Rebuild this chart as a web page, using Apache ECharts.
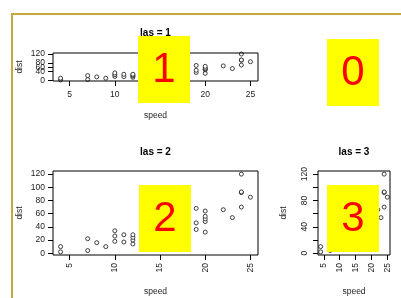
<!DOCTYPE html>
<html>
<head>
<meta charset="utf-8">
<script src="https://cdn.jsdelivr.net/npm/echarts@6/dist/echarts.min.js"></script>
<style>
  html, body { margin: 0; padding: 0; background: #fff; }
  #chart { width: 401px; height: 298px; }
</style>
</head>
<body>
<div id="chart"></div>
<script>
// cars data (speed vs dist)
const speed = [4, 4, 7, 7, 8, 9, 10, 10, 10, 11, 11, 12, 12, 12, 12, 13, 13, 13, 13, 14, 14, 14, 14, 15, 15, 15, 16, 16, 17, 17, 17, 18, 18, 18, 18, 19, 19, 19, 20, 20, 20, 20, 20, 22, 23, 24, 24, 24, 24, 25]
const dist = [2, 10, 4, 22, 16, 10, 18, 26, 34, 17, 28, 14, 20, 24, 28, 26, 34, 34, 46, 26, 36, 60, 80, 20, 26, 54, 32, 40, 32, 40, 50, 42, 56, 76, 84, 36, 46, 68, 32, 48, 52, 56, 64, 66, 54, 70, 92, 93, 120, 85]

const xTicks = [5, 10, 15, 20, 25]
const yTicks = [0, 20, 40, 60, 80, 100, 120]
const yLabelsLas3 = [0, 40, 80, 120]
const titles = ['las = 1', 'las = 2', 'las = 3']
const panelNumbers = ['1', '0', '2', '3']

// R style axis range (4% padding)
const xRange = [3.16, 25.84]
const yRange = [-2.72, 124.72]

const points = speed.map(function (s, i) { return [s, dist[i]] })

// plot boxes in pixels
const boxes = [
  { left: 53, top: 53, width: 205, height: 28 },
  { left: 53, top: 171, width: 205, height: 84 },
  { left: 318, top: 171, width: 72, height: 84 }
]
// las: 1 horizontal, 2 perpendicular, 3 vertical
const xRotate = [0, 90, 90]
const yRotate = [0, 0, 90]
const yLabelValues = [yTicks, yTicks, yLabelsLas3]

// yellow cover boxes: x, y
const coverBoxes = [[138, 36], [327, 39], [139, 185], [327, 185]]

const fontFamily = 'Liberation Sans, Arial, sans-serif'
const labelColor = '#222'

let myChart = echarts.init(document.getElementById('chart'), null, { renderer: 'canvas' })

let grids = [], xAxes = [], yAxes = [], series = [], graphics = []

boxes.forEach(function (b, i) {
  grids.push({
    left: b.left, top: b.top, width: b.width, height: b.height,
    show: true, borderColor: '#000', borderWidth: 1, backgroundColor: 'transparent',
    containLabel: false, outerBoundsMode: 'none', z: 5
  })
  xAxes.push({
    type: 'value', gridIndex: i, min: xRange[0], max: xRange[1],
    axisLine: { show: false, onZero: false },
    axisTick: { show: true, inside: false, length: 5, lineStyle: { color: '#000' }, customValues: xTicks },
    splitLine: { show: false },
    axisLabel: {
      customValues: xTicks, rotate: xRotate[i], margin: i == 0 ? 9 : 8,
      showMinLabel: true, showMaxLabel: true, hideOverlap: false, interval: 0,
      fontSize: 8.5, color: labelColor, fontFamily: fontFamily
    }
  })
  yAxes.push({
    type: 'value', gridIndex: i, min: yRange[0], max: yRange[1],
    axisLine: { show: false, onZero: false },
    axisTick: { show: true, inside: false, length: 5, lineStyle: { color: '#000' }, customValues: yTicks },
    splitLine: { show: false },
    axisLabel: {
      customValues: yLabelValues[i], rotate: yRotate[i], margin: i == 2 ? 9 : 8,
      showMinLabel: true, showMaxLabel: true, hideOverlap: false, interval: 0,
      fontSize: 8.5, color: labelColor, fontFamily: fontFamily
    }
  })
  series.push({
    type: 'scatter', xAxisIndex: i, yAxisIndex: i,
    data: points,
    symbol: 'circle', symbolSize: 4,
    itemStyle: { color: '#fff', borderColor: '#111', borderWidth: 0.8, opacity: 1 },
    silent: true, animation: false, z: 2
  })

  // title
  graphics.push({
    type: 'text', x: b.left + b.width / 2, y: i == 0 ? 33 : 152,
    style: { text: titles[i], font: 'bold 10px ' + fontFamily, fill: '#000', textAlign: 'center', textVerticalAlign: 'middle' }
  })
  // axis names
  graphics.push({
    type: 'text', x: b.left + b.width / 2, y: i == 0 ? 116 : 292,
    style: { text: 'speed', font: '8.5px ' + fontFamily, fill: labelColor, textAlign: 'center', textVerticalAlign: 'middle' }
  })
  graphics.push({
    type: 'text', x: i == 2 ? 284 : 20, y: b.top + b.height / 2, rotation: Math.PI / 2,
    style: { text: 'dist', font: '8.5px ' + fontFamily, fill: labelColor, textAlign: 'center', textVerticalAlign: 'middle' }
  })
})

// gold frame
graphics.push({
  type: 'rect', shape: { x: 12, y: 14, width: 600, height: 500 },
  style: { fill: 'none', stroke: '#C8A83A', lineWidth: 2 }, z: 50
})

// yellow number boxes
coverBoxes.forEach(function (c, i) {
  graphics.push({
    type: 'rect', shape: { x: c[0], y: c[1], width: 52, height: 67 },
    style: { fill: '#FFFF00' }, z: 100
  })
  graphics.push({
    type: 'text', x: c[0] + 26, y: c[1] + 34,
    style: { text: panelNumbers[i], font: '42px ' + fontFamily, fill: '#FF0000', textAlign: 'center', textVerticalAlign: 'middle' },
    z: 101
  })
})

myChart.setOption({
  animation: false,
  grid: grids,
  xAxis: xAxes,
  yAxis: yAxes,
  series: series,
  graphic: graphics
})
</script>
</body>
</html>
